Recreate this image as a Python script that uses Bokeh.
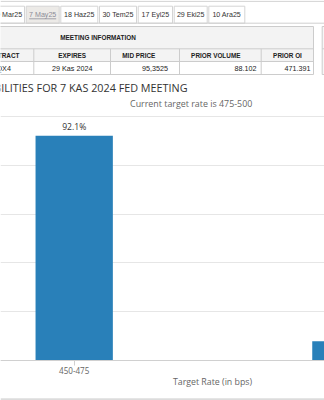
from bokeh.plotting import figure
from bokeh.models import Range1d, FixedTicker, Grid, LinearAxis, ColumnDataSource
from bokeh.embed import file_html
from bokeh.resources import INLINE
from bokeh.core.properties import value

# ---------------- data ----------------
rates = ["450-475", "475-500"]
probs = [92.1, 7.9]
y_ticks = [0, 20, 40, 60, 80, 100]
title_text = "TARGET RATE PROBABILITIES FOR 7 KAS 2024 FED MEETING"
subtitle_text = "Current target rate is 475-500"
x_title = "Target Rate (in bps)"
tabs = ["19 Mar25", "7 May25", "18 Haz25", "30 Tem25", "17 Eyl25", "29 Eki25", "10 Ara25"]
selected_tab = "7 May25"
table_group = "MEETING INFORMATION"
columns = ["CONTRACT", "EXPIRES", "MID PRICE", "PRIOR VOLUME", "PRIOR OI"]
row_values = ["ZQX4", "29 Kas 2024", "95,3525", "88.102", "471.391"]

# ---------------- layout (pixels) ----------------
W, H = 324, 400
tab_left = [-20, 25.7, 60.3, 99.0, 137.7, 173.7, 208.3]
tab_right = [24.0, 58.7, 97.3, 136.0, 172.0, 206.7, 244.3]
col_sep = [33.3, 110.0, 179.0, 260.7]
hdr_x = [1.0, 71.7, 138.3, 215.3, 287.0]
val_x = [1.0, 71.7, 167.5, 256.0, 310.0]
val_align = ["center", "center", "right", "right", "right"]

x_pos = [i + 0.5 for i in range(len(rates))]

p = figure(width=W, height=H, output_backend="svg", toolbar_location=None,
           x_range=Range1d(0.23365, 1.40459), y_range=Range1d(-16.393, 147.541),
           x_axis_location=None, y_axis_location=None,
           min_border_left=0, min_border_right=0, min_border_top=0, min_border_bottom=0)
p.outline_line_color = None
for g in p.grid:
    g.visible = False
p.extra_x_ranges = {"px": Range1d(0, W)}
p.extra_y_ranges = {"px": Range1d(H, 0)}

# grid
grid = Grid(dimension=1, ticker=FixedTicker(ticks=y_ticks), grid_line_color="#e6e6e6")
p.add_layout(grid, "center")

# x axis (fixed at 0 %)
xaxis = LinearAxis(fixed_location=0, ticker=FixedTicker(ticks=x_pos),
                   major_label_overrides={x: r for x, r in zip(x_pos, rates)},
                   axis_line_color="#d0d0d0", major_tick_line_color="#d0d0d0",
                   major_tick_in=0, major_tick_out=5, minor_tick_line_color=None,
                   major_label_text_font="Open Sans", major_label_text_font_size="8.1px",
                   major_label_text_color="#666666", major_label_standoff=1)
p.add_layout(xaxis, "below")

# bars
src = ColumnDataSource(dict(x=x_pos, top=probs, label=[f"{v}%" for v in probs]))
p.vbar(x="x", top="top", bottom=0, width=0.2794, source=src,
       fill_color="#2980b9", line_color=None)
p.text(x="x", y="top", text="label", source=src, text_align="center", text_baseline="bottom",
       y_offset=-3, text_font=value("Open Sans"), text_font_size="8.6px", text_color="#333333")

PX = dict(x_range_name="px", y_range_name="px")

# titles
p.text(x=[187], y=[86.5], text=[title_text], text_align="right", text_baseline="middle",
       text_font=value("Open Sans"), text_font_size="10.8px", text_color="#333333", **PX)
p.text(x=[190.7], y=[103.3], text=[subtitle_text], text_align="center", text_baseline="middle",
       text_font=value("Open Sans"), text_font_size="8.9px", text_color="#666666", **PX)
p.text(x=[212], y=[381.7], text=[x_title], text_align="center", text_baseline="middle",
       text_font=value("Open Sans"), text_font_size="8.8px", text_color="#666666", **PX)
p.segment(x0=[0], y0=[398.8], x1=[W], y1=[398.8], line_color="#dcdcdc", line_width=2, **PX)

# tab bar
p.segment(x0=[0], y0=[0.8], x1=[W], y1=[0.8], line_color="#cfcfcf", line_width=1, **PX)
tab_fill = ["#eceae7" if t == selected_tab else "#ffffff" for t in tabs]
p.quad(left=tab_left, right=tab_right, top=[5.7] * len(tabs), bottom=[22.7] * len(tabs),
       fill_color=tab_fill, line_color="#d4d4d4", line_width=1, **PX)
p.segment(x0=[0], y0=[22.7], x1=[W], y1=[22.7], line_color="#cfcfcf", line_width=1, **PX)
tab_cx = [(l + r) / 2 for l, r in zip(tab_left, tab_right)]
tab_cx[0] = tab_right[0] - 2.3
tab_align = ["right"] + ["center"] * (len(tabs) - 1)
tab_color = ["#8c8c98" if t == selected_tab else "#333333" for t in tabs]
p.text(x=tab_cx, y=[14.3] * len(tabs), text=tabs, text_align=tab_align, text_baseline="middle",
       text_font=value("Liberation Sans"), text_font_size="7.1px", text_color=tab_color, **PX)
si = tabs.index(selected_tab)
p.segment(x0=[tab_cx[si] - 13.5], y0=[18.3], x1=[tab_cx[si] + 13.5], y1=[18.3],
          line_color="#8c8c98", line_width=0.8, **PX)

# table
p.quad(left=[-10], right=[313], top=[26], bottom=[61], fill_color="#f3f3f3", line_color=None, **PX)
p.quad(left=[-10], right=[313], top=[26], bottom=[74], fill_color=None, line_color="#cccccc", **PX)
p.segment(x0=[-10, -10], y0=[48.3, 61], x1=[313, 313], y1=[48.3, 61], line_color="#cccccc", **PX)
p.segment(x0=col_sep, y0=[48.3] * 4, x1=col_sep, y1=[74] * 4, line_color="#cccccc", **PX)
p.quad(left=[321.7], right=[340], top=[26], bottom=[74], fill_color="#f7f7f7", line_color="#cccccc", **PX)
p.segment(x0=[321.7], y0=[48.3], x1=[340], y1=[48.3], line_color="#cccccc", **PX)
p.text(x=[97.5], y=[37], text=[table_group], text_align="center", text_baseline="middle",
       text_font=value("Liberation Sans"), text_font_size="6.4px", text_font_style="bold",
       text_color="#222222", **PX)
p.text(x=hdr_x, y=[54.6] * 5, text=columns, text_align="center", text_baseline="middle",
       text_font=value("Liberation Sans"), text_font_size="6.4px", text_font_style="bold",
       text_color="#222222", **PX)
p.text(x=val_x, y=[67.8] * 5, text=row_values, text_align=val_align, text_baseline="middle",
       text_font=value("Liberation Sans"), text_font_size="7.2px", text_color="#222222", **PX)

open("out.html", "w").write(file_html(p, INLINE))
